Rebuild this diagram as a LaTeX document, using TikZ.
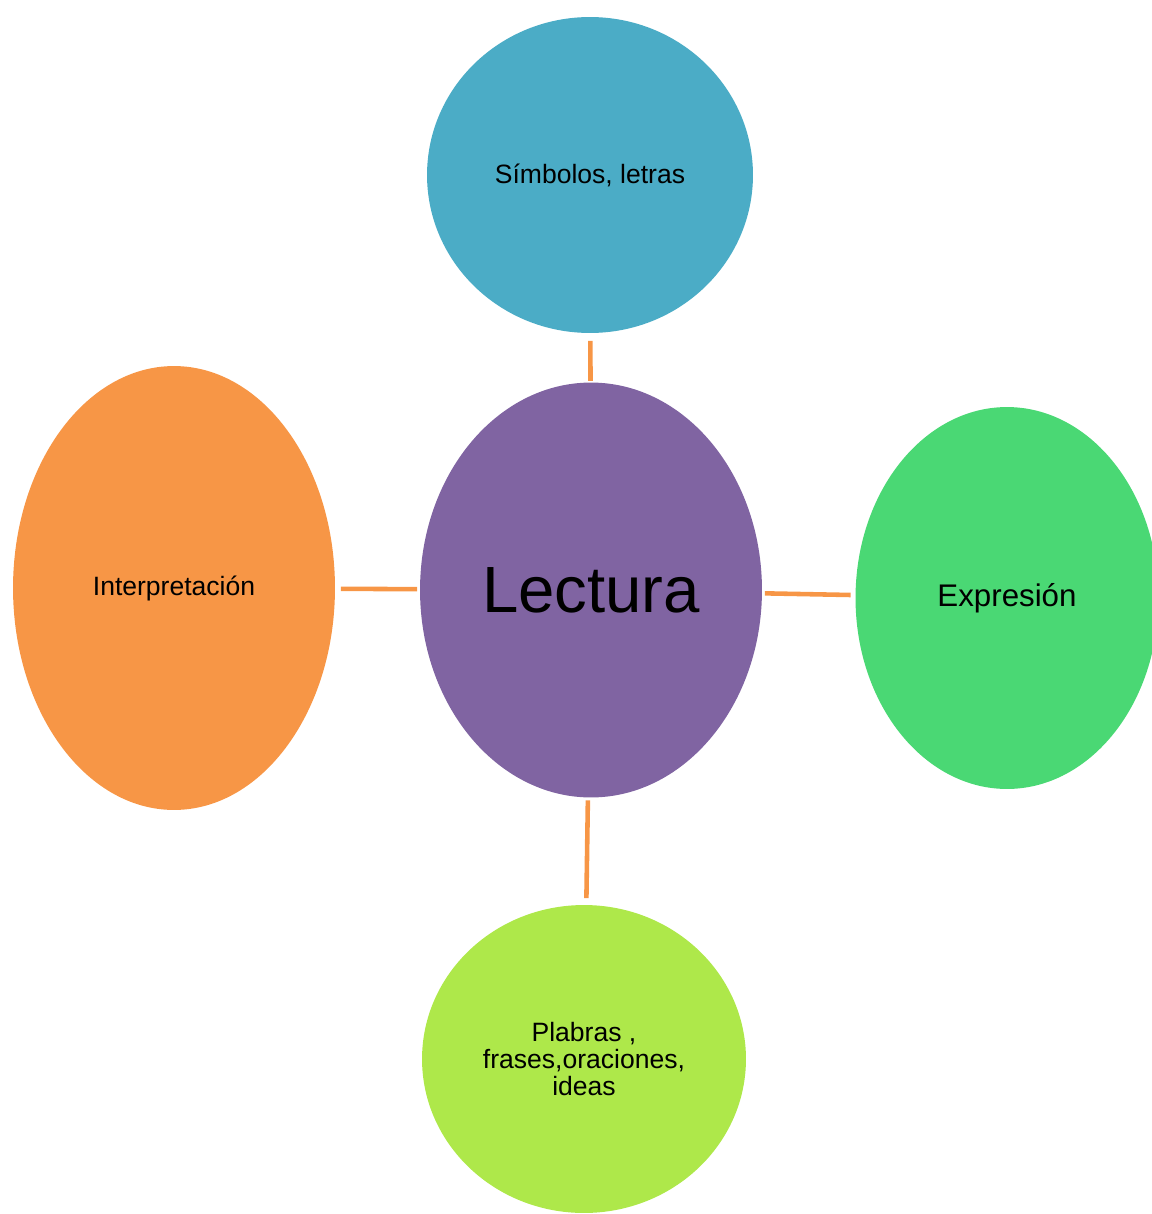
\documentclass[tikz,border=0pt]{standalone}
\usepackage{fontspec}
\setmainfont{Liberation Sans}
\usetikzlibrary{shapes.geometric}

\definecolor{cteal}{HTML}{4BACC6}
\definecolor{cpurple}{HTML}{8064A2}
\definecolor{corange}{HTML}{F79646}
\definecolor{cgreen}{HTML}{4AD874}
\definecolor{clime}{HTML}{AEE84A}

\tikzset{
  bubble/.style={ellipse, draw=none, inner sep=0pt, outer sep=0pt, text=black,
    align=center, font=\fontsize{15.1}{15.6}\selectfont},
  link/.style={corange, line width=2.6pt},
}

\begin{document}
\begin{tikzpicture}[x=0.02cm, y=-0.02cm]
  % marco
  \useasboundingbox (0,0) rectangle (1152,1214);

  % nodos
  \node[bubble, fill=cpurple, minimum width=6.84cm, minimum height=8.3cm,
        font=\fontsize{37.2}{40}\selectfont] (lectura) at (591,590) {Lectura};
  \node[bubble, fill=cteal, minimum width=6.52cm, minimum height=6.32cm]
        (simbolos) at (590,175) {Símbolos, letras};
  \node[bubble, fill=corange, minimum width=6.44cm, minimum height=8.88cm]
        (interp) at (174,588) {Interpretación};
  \node[bubble, fill=cgreen, minimum width=6.06cm, minimum height=7.64cm,
        font=\fontsize{17.8}{20}\selectfont] (expr) at (1007,598) {Expresión};
  \node[bubble, fill=clime, minimum width=6.48cm, minimum height=6.16cm]
        (palabras) at (584,1059) {Plabras ,\\frases,oraciones,\\ideas};

  % conexiones
  \draw[link, shorten <=1pt, shorten >=4.5pt] (lectura) -- (simbolos);
  \draw[link, shorten <=1.7pt, shorten >=3.4pt] (lectura) -- (interp);
  \draw[link, shorten <=1.7pt, shorten >=2.8pt] (lectura) -- (expr);
  \draw[link, shorten <=1.7pt, shorten >=4pt] (lectura) -- (palabras);
\end{tikzpicture}
\end{document}
